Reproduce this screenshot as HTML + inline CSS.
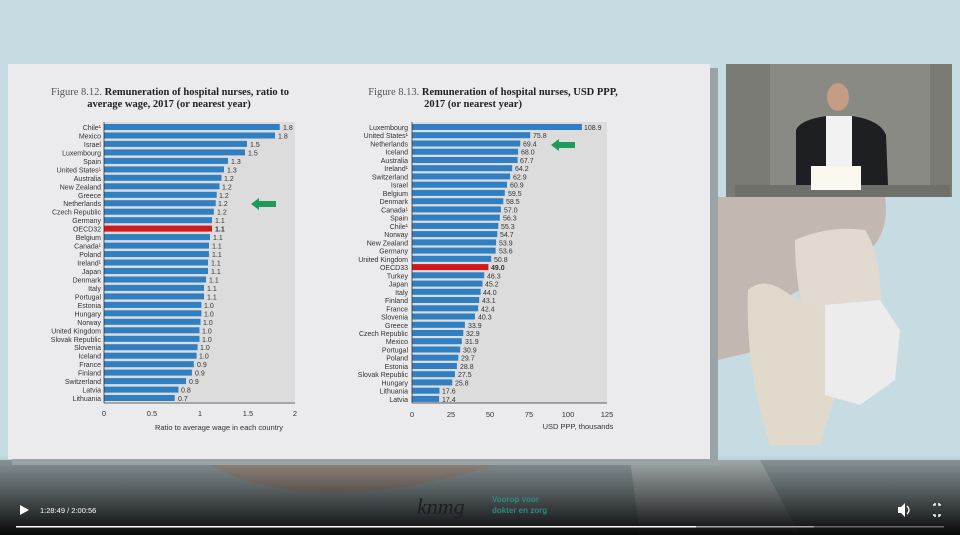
<!DOCTYPE html>
<html><head><meta charset="utf-8"><style>
html,body{margin:0;padding:0;width:960px;height:535px;overflow:hidden;background:#c7dce3;font-family:"Liberation Sans",sans-serif}
</style></head><body>
<svg width="960" height="535" viewBox="0 0 960 535" xmlns="http://www.w3.org/2000/svg" style="position:absolute;left:0;top:0">
<defs>
<linearGradient id="bot" x1="0" y1="0" x2="0" y2="1">
<stop offset="0" stop-color="#000" stop-opacity="0"/><stop offset="0.5" stop-color="#000" stop-opacity="0.45"/><stop offset="1" stop-color="#000" stop-opacity="0.95"/></linearGradient>
</defs>
<rect width="960" height="535" fill="#c6dbe2"/>
<!-- background illustration -->
<path d="M718 197 L885 197 Q890 230 870 250 L840 270 L780 300 L760 350 L718 360 Z" fill="#c2b8b1"/>
<path d="M795 240 Q830 225 865 230 Q885 260 880 330 L815 340 Q795 300 795 240Z" fill="#e2dad0"/>
<path d="M748 290 Q765 275 790 295 L840 320 L840 380 L820 445 L770 445 Q745 370 748 290Z" fill="#e2d9cd"/>
<path d="M825 305 L880 300 L900 330 L895 380 L860 405 L825 395 Z" fill="#ececec"/>
<path d="M0 460 L960 460 L960 535 L0 535Z" fill="#8d9a9d"/>
<path d="M200 460 Q300 520 480 470 L520 460 Z" fill="#9b8f86"/>
<path d="M630 460 L760 460 L800 535 L640 535Z" fill="#a8b1b3"/>
<rect x="0" y="455" width="960" height="80" fill="url(#bot)"/>
<!-- slide shadow -->
<rect x="12" y="68" width="706" height="397" fill="#9aa3a6"/>
<rect x="8" y="64" width="702" height="395" fill="#ebeaec"/>
<!-- webcam -->
<rect x="726" y="64" width="226" height="133" fill="#7b7b76"/>
<rect x="770" y="64" width="160" height="133" fill="#8a8a84"/>
<rect x="735" y="185" width="215" height="12" fill="#6f706b"/>
<path d="M796 130 Q800 120 826 116 L852 116 Q880 120 886 135 L888 185 L796 185Z" fill="#1e1f22"/>
<rect x="826" y="116" width="26" height="50" fill="#f2f2f2"/>
<ellipse cx="838" cy="97" rx="11" ry="14" fill="#c59c84"/>
<rect x="811" y="166" width="50" height="24" fill="#fbf8ef"/>

<!-- Left chart -->
<text x="170" y="95" font-family="Liberation Serif" font-size="10.5" fill="#222" text-anchor="middle"><tspan fill="#555">Figure 8.12. </tspan><tspan font-weight="bold">Remuneration of hospital nurses, ratio to</tspan></text>
<text x="169" y="107" font-family="Liberation Serif" font-size="10.5" font-weight="bold" fill="#222" text-anchor="middle">average wage, 2017 (or nearest year)</text>
<rect x="104" y="122" width="191" height="280" fill="#dcdcdc"/>
<g fill="#2f7fc2">
<rect x="104" y="124" width="175.7" height="6"/><rect x="104" y="132.5" width="171" height="6"/><rect x="104" y="140.9" width="143" height="6"/><rect x="104" y="149.4" width="141" height="6"/><rect x="104" y="157.9" width="124" height="6"/><rect x="104" y="166.4" width="120" height="6"/><rect x="104" y="174.8" width="117.5" height="6"/><rect x="104" y="183.3" width="115.5" height="6"/><rect x="104" y="191.8" width="112.7" height="6"/><rect x="104" y="200.2" width="111.7" height="6"/><rect x="104" y="208.7" width="109.8" height="6"/><rect x="104" y="217.2" width="108" height="6"/><rect x="104" y="225.6" width="108" height="6" fill="#d0181d"/><rect x="104" y="234.1" width="106" height="6"/><rect x="104" y="242.6" width="105" height="6"/><rect x="104" y="251.1" width="105" height="6"/><rect x="104" y="259.5" width="104" height="6"/><rect x="104" y="268" width="104" height="6"/><rect x="104" y="276.5" width="102" height="6"/><rect x="104" y="284.9" width="100" height="6"/><rect x="104" y="293.4" width="100" height="6"/><rect x="104" y="301.9" width="97.4" height="6"/><rect x="104" y="310.3" width="97.4" height="6"/><rect x="104" y="318.8" width="96.5" height="6"/><rect x="104" y="327.3" width="95.5" height="6"/><rect x="104" y="335.8" width="95.5" height="6"/><rect x="104" y="344.2" width="93.6" height="6"/><rect x="104" y="352.7" width="92.6" height="6"/><rect x="104" y="361.2" width="89.8" height="6"/><rect x="104" y="369.6" width="87.9" height="6"/><rect x="104" y="378.1" width="82" height="6"/><rect x="104" y="386.6" width="74.5" height="6"/><rect x="104" y="395" width="70.7" height="6"/>
</g>
<line x1="104" y1="122" x2="104" y2="403" stroke="#333" stroke-width="0.8"/>
<line x1="104" y1="403" x2="295" y2="403" stroke="#333" stroke-width="0.8"/>
<g font-size="7" fill="#333" text-anchor="end" font-family="Liberation Sans">
<text x="101" y="130">Chile¹</text><text x="101" y="138.5">Mexico</text><text x="101" y="146.9">Israel</text><text x="101" y="155.4">Luxembourg</text><text x="101" y="163.9">Spain</text><text x="101" y="172.4">United States¹</text><text x="101" y="180.8">Australia</text><text x="101" y="189.3">New Zealand</text><text x="101" y="197.8">Greece</text><text x="101" y="206.2">Netherlands</text><text x="101" y="214.7">Czech Republic</text><text x="101" y="223.2">Germany</text><text x="101" y="231.6">OECD32</text><text x="101" y="240.1">Belgium</text><text x="101" y="248.6">Canada¹</text><text x="101" y="257.1">Poland</text><text x="101" y="265.5">Ireland¹</text><text x="101" y="274">Japan</text><text x="101" y="282.5">Denmark</text><text x="101" y="290.9">Italy</text><text x="101" y="299.4">Portugal</text><text x="101" y="307.9">Estonia</text><text x="101" y="316.3">Hungary</text><text x="101" y="324.8">Norway</text><text x="101" y="333.3">United Kingdom</text><text x="101" y="341.8">Slovak Republic</text><text x="101" y="350.2">Slovenia</text><text x="101" y="358.7">Iceland</text><text x="101" y="367.2">France</text><text x="101" y="375.6">Finland</text><text x="101" y="384.1">Switzerland</text><text x="101" y="392.6">Latvia</text><text x="101" y="401">Lithuania</text>
</g>
<g font-size="7" fill="#333" font-family="Liberation Sans">
<text x="283" y="130">1.8</text><text x="278" y="138.5">1.8</text><text x="250" y="146.9">1.5</text><text x="248" y="155.4">1.5</text><text x="231" y="163.9">1.3</text><text x="227" y="172.4">1.3</text><text x="224" y="180.8">1.2</text><text x="222" y="189.3">1.2</text><text x="219" y="197.8">1.2</text><text x="218" y="206.2">1.2</text><text x="217" y="214.7">1.2</text><text x="215" y="223.2">1.1</text><text x="215" y="231.6" font-weight="bold">1.1</text><text x="213" y="240.1">1.1</text><text x="212" y="248.6">1.1</text><text x="212" y="257.1">1.1</text><text x="211" y="265.5">1.1</text><text x="211" y="274">1.1</text><text x="209" y="282.5">1.1</text><text x="207" y="290.9">1.1</text><text x="207" y="299.4">1.1</text><text x="204" y="307.9">1.0</text><text x="204" y="316.3">1.0</text><text x="203" y="324.8">1.0</text><text x="202" y="333.3">1.0</text><text x="202" y="341.8">1.0</text><text x="200" y="350.2">1.0</text><text x="199" y="358.7">1.0</text><text x="197" y="367.2">0.9</text><text x="195" y="375.6">0.9</text><text x="189" y="384.1">0.9</text><text x="181" y="392.6">0.8</text><text x="178" y="401">0.7</text>
</g>
<g font-size="7.5" fill="#333" text-anchor="middle">
<text x="104" y="416">0</text><text x="152" y="416">0.5</text><text x="200" y="416">1</text><text x="248" y="416">1.5</text><text x="295" y="416">2</text>
<text x="219" y="430">Ratio to average wage in each country</text>
</g>
<path d="M251 204 L259 198 L259 201 L276 201 L276 207 L259 207 L259 210 Z" fill="#1e9a5a"/>

<!-- Right chart -->
<text x="493" y="95" font-family="Liberation Serif" font-size="10.5" fill="#222" text-anchor="middle"><tspan fill="#555">Figure 8.13. </tspan><tspan font-weight="bold">Remuneration of hospital nurses, USD PPP,</tspan></text>
<text x="473" y="107" font-family="Liberation Serif" font-size="10.5" font-weight="bold" fill="#222" text-anchor="middle">2017 (or nearest year)</text>
<rect x="412" y="122" width="195" height="281" fill="#dcdcdc"/>
<g fill="#2f7fc2">
<rect x="412" y="124" width="169.9" height="6"/><rect x="412" y="132.2" width="118.2" height="6"/><rect x="412" y="140.5" width="108.3" height="6"/><rect x="412" y="148.7" width="106.1" height="6"/><rect x="412" y="157" width="105.6" height="6"/><rect x="412" y="165.2" width="100.2" height="6"/><rect x="412" y="173.4" width="98.1" height="6"/><rect x="412" y="181.7" width="95" height="6"/><rect x="412" y="189.9" width="92.8" height="6"/><rect x="412" y="198.2" width="91.3" height="6"/><rect x="412" y="206.4" width="88.9" height="6"/><rect x="412" y="214.6" width="87.8" height="6"/><rect x="412" y="222.9" width="86.3" height="6"/><rect x="412" y="231.1" width="85.3" height="6"/><rect x="412" y="239.4" width="84.1" height="6"/><rect x="412" y="247.6" width="83.6" height="6"/><rect x="412" y="255.8" width="79.2" height="6"/><rect x="412" y="264.1" width="76.4" height="6" fill="#d0181d"/><rect x="412" y="272.3" width="72.2" height="6"/><rect x="412" y="280.6" width="70.5" height="6"/><rect x="412" y="288.8" width="68.6" height="6"/><rect x="412" y="297" width="67.2" height="6"/><rect x="412" y="305.3" width="66.1" height="6"/><rect x="412" y="313.5" width="62.9" height="6"/><rect x="412" y="321.8" width="52.9" height="6"/><rect x="412" y="330" width="51.3" height="6"/><rect x="412" y="338.2" width="49.8" height="6"/><rect x="412" y="346.5" width="48.2" height="6"/><rect x="412" y="354.7" width="46.3" height="6"/><rect x="412" y="363" width="44.9" height="6"/><rect x="412" y="371.2" width="42.9" height="6"/><rect x="412" y="379.4" width="40.2" height="6"/><rect x="412" y="387.7" width="27.5" height="6"/><rect x="412" y="395.9" width="27.1" height="6"/>
</g>
<line x1="412" y1="122" x2="412" y2="403" stroke="#333" stroke-width="0.8"/>
<line x1="412" y1="403" x2="607" y2="403" stroke="#333" stroke-width="0.8"/>
<g font-size="7" fill="#333" text-anchor="end">
<text x="408" y="130">Luxembourg</text><text x="408" y="138.2">United States¹</text><text x="408" y="146.5">Netherlands</text><text x="408" y="154.7">Iceland</text><text x="408" y="163">Australia</text><text x="408" y="171.2">Ireland¹</text><text x="408" y="179.4">Switzerland</text><text x="408" y="187.7">Israel</text><text x="408" y="195.9">Belgium</text><text x="408" y="204.2">Denmark</text><text x="408" y="212.4">Canada¹</text><text x="408" y="220.6">Spain</text><text x="408" y="228.9">Chile¹</text><text x="408" y="237.1">Norway</text><text x="408" y="245.4">New Zealand</text><text x="408" y="253.6">Germany</text><text x="408" y="261.8">United Kingdom</text><text x="408" y="270.1">OECD33</text><text x="408" y="278.3">Turkey</text><text x="408" y="286.6">Japan</text><text x="408" y="294.8">Italy</text><text x="408" y="303">Finland</text><text x="408" y="311.3">France</text><text x="408" y="319.5">Slovenia</text><text x="408" y="327.8">Greece</text><text x="408" y="336">Czech Republic</text><text x="408" y="344.2">Mexico</text><text x="408" y="352.5">Portugal</text><text x="408" y="360.7">Poland</text><text x="408" y="369">Estonia</text><text x="408" y="377.2">Slovak Republic</text><text x="408" y="385.4">Hungary</text><text x="408" y="393.7">Lithuania</text><text x="408" y="401.9">Latvia</text>
</g>
<g font-size="7" fill="#333">
<text x="584" y="130">108.9</text><text x="533" y="138.2">75.8</text><text x="523" y="146.5">69.4</text><text x="521" y="154.7">68.0</text><text x="520" y="163">67.7</text><text x="515" y="171.2">64.2</text><text x="513" y="179.4">62.9</text><text x="510" y="187.7">60.9</text><text x="508" y="195.9">59.5</text><text x="506" y="204.2">58.5</text><text x="504" y="212.4">57.0</text><text x="503" y="220.6">56.3</text><text x="501" y="228.9">55.3</text><text x="500" y="237.1">54.7</text><text x="499" y="245.4">53.9</text><text x="499" y="253.6">53.6</text><text x="494" y="261.8">50.8</text><text x="491" y="270.1" font-weight="bold">49.0</text><text x="487" y="278.3">46.3</text><text x="485" y="286.6">45.2</text><text x="483" y="294.8">44.0</text><text x="482" y="303">43.1</text><text x="481" y="311.3">42.4</text><text x="478" y="319.5">40.3</text><text x="468" y="327.8">33.9</text><text x="466" y="336">32.9</text><text x="465" y="344.2">31.9</text><text x="463" y="352.5">30.9</text><text x="461" y="360.7">29.7</text><text x="460" y="369">28.8</text><text x="458" y="377.2">27.5</text><text x="455" y="385.4">25.8</text><text x="442" y="393.7">17.6</text><text x="442" y="401.9">17.4</text>
</g>
<g font-size="7.5" fill="#333" text-anchor="middle">
<text x="412" y="417">0</text><text x="451" y="417">25</text><text x="490" y="417">50</text><text x="529" y="417">75</text><text x="568" y="417">100</text><text x="607" y="417">125</text>
<text x="578" y="429">USD PPP, thousands</text>
</g>
<path d="M551 145 L559 139 L559 142 L575 142 L575 148 L559 148 L559 151 Z" fill="#1e9a5a"/>

<!-- bottom overlay -->
<text x="417" y="514" font-family="Liberation Serif" font-style="italic" font-size="22" fill="#1e1e22">knmg</text>
<text x="492" y="502" font-size="8" fill="#2f8a82" font-weight="bold">Voorop voor</text>
<text x="492" y="513" font-size="8" fill="#2f8a82" font-weight="bold">dokter en zorg</text>
<path d="M20 505 L29 510 L20 515 Z" fill="#fff"/>
<text x="40" y="513" font-size="7.5" fill="#fff">1:28:49 / 2:00:56</text>
<path d="M898 507 L901 507 L905 503 L905 517 L901 513 L898 513 Z" fill="#fff"/>
<path d="M907 506 Q911 510 907 514" stroke="#fff" fill="none" stroke-width="1.3"/>
<g stroke="#fff" stroke-width="1.5" fill="none"><path d="M933 505 L935 505 L935 503"/><path d="M939 503 L939 505 L941 505"/><path d="M933 515 L935 515 L935 517"/><path d="M939 517 L939 515 L941 515"/></g>
<rect x="16" y="526" width="928" height="1.5" fill="#666"/>
<rect x="16" y="526" width="798" height="1.5" fill="#aaa"/>
<rect x="16" y="526" width="680" height="1.5" fill="#fff"/>
</svg>
</body></html>
